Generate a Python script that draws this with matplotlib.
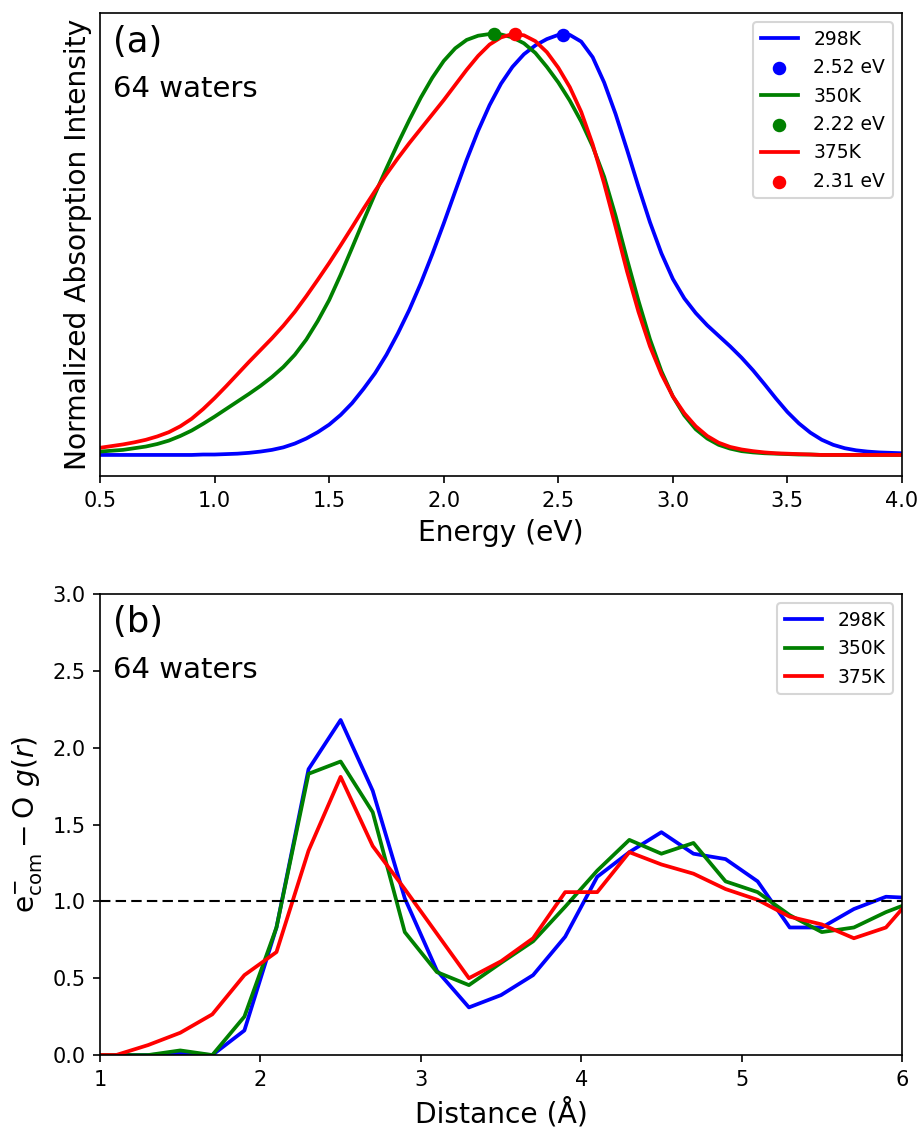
import matplotlib
matplotlib.use("Agg")
import matplotlib.pyplot as plt
import numpy as np

# absorption spectra, energies in eV, 0.05 eV steps
energy = [0.50, 0.55, 0.60, 0.65, 0.70, 0.75, 0.80, 0.85, 0.90, 0.95,
          1.00, 1.05, 1.10, 1.15, 1.20, 1.25, 1.30, 1.35, 1.40, 1.45,
          1.50, 1.55, 1.60, 1.65, 1.70, 1.75, 1.80, 1.85, 1.90, 1.95,
          2.00, 2.05, 2.10, 2.15, 2.20, 2.25, 2.30, 2.35, 2.40, 2.45,
          2.50, 2.55, 2.60, 2.65, 2.70, 2.75, 2.80, 2.85, 2.90, 2.95,
          3.00, 3.05, 3.10, 3.15, 3.20, 3.25, 3.30, 3.35, 3.40, 3.45,
          3.50, 3.55, 3.60, 3.65, 3.70, 3.75, 3.80, 3.85, 3.90, 3.95,
          4.00]
abs_298 = [0.0, 0.0, 0.0, 0.0, 0.0, 0.0, 0.0, 0.0, 0.0, 0.001,
           0.001, 0.002, 0.003, 0.005, 0.008, 0.012, 0.018, 0.027, 0.039, 0.054,
           0.072, 0.095, 0.123, 0.157, 0.194, 0.238, 0.289, 0.345, 0.408, 0.477,
           0.550, 0.626, 0.701, 0.770, 0.831, 0.882, 0.922, 0.952, 0.973, 0.988,
           0.998, 0.998, 0.982, 0.945, 0.885, 0.810, 0.725, 0.637, 0.553, 0.479,
           0.418, 0.372, 0.337, 0.308, 0.283, 0.258, 0.231, 0.201, 0.168, 0.134,
           0.102, 0.075, 0.053, 0.036, 0.024, 0.016, 0.011, 0.008, 0.006, 0.005,
           0.004]
abs_350 = [0.008, 0.010, 0.012, 0.016, 0.020, 0.026, 0.034, 0.045, 0.058, 0.074,
           0.091, 0.109, 0.127, 0.145, 0.164, 0.185, 0.209, 0.238, 0.274, 0.318,
           0.368, 0.428, 0.492, 0.557, 0.620, 0.681, 0.740, 0.796, 0.849, 0.896,
           0.936, 0.966, 0.986, 0.996, 1.0, 0.999, 0.992, 0.978, 0.955, 0.922,
           0.885, 0.842, 0.792, 0.733, 0.661, 0.568, 0.465, 0.366, 0.275, 0.199,
           0.139, 0.094, 0.061, 0.039, 0.024, 0.015, 0.009, 0.006, 0.004, 0.003,
           0.002, 0.001, 0.001, 0.0, 0.0, 0.0, 0.0, 0.0, 0.0, 0.0,
           0.0]
abs_375 = [0.017, 0.021, 0.025, 0.030, 0.036, 0.044, 0.054, 0.068, 0.086, 0.109,
           0.135, 0.163, 0.192, 0.221, 0.249, 0.277, 0.307, 0.340, 0.377, 0.416,
           0.456, 0.498, 0.541, 0.585, 0.627, 0.667, 0.705, 0.741, 0.775, 0.809,
           0.843, 0.879, 0.915, 0.948, 0.975, 0.992, 1.0, 0.997, 0.983, 0.957,
           0.920, 0.874, 0.815, 0.738, 0.645, 0.542, 0.436, 0.340, 0.258, 0.192,
           0.139, 0.099, 0.068, 0.045, 0.029, 0.019, 0.013, 0.009, 0.006, 0.004,
           0.003, 0.002, 0.001, 0.0, 0.0, 0.0, 0.0, 0.0, 0.0, 0.0,
           0.0]
peaks = [2.52, 2.22, 2.31]
temps = ["298K", "350K", "375K"]
colors = ["blue", "green", "red"]

# radial distribution functions
dist = [0.9, 1.1, 1.3, 1.5, 1.7, 1.9, 2.1, 2.3, 2.5, 2.7, 2.9, 3.1, 3.3, 3.5,
        3.7, 3.9, 4.1, 4.3, 4.5, 4.7, 4.9, 5.1, 5.3, 5.5, 5.7, 5.9, 6.1]
g_298 = [0.0, 0.0, 0.0, 0.01, 0.0, 0.16, 0.83, 1.86, 2.18, 1.72, 1.02, 0.55, 0.31,
         0.39, 0.52, 0.77, 1.16, 1.32, 1.45, 1.31, 1.275, 1.13, 0.83, 0.83, 0.95,
         1.03, 1.02]
g_350 = [0.0, 0.0, 0.0, 0.03, 0.0, 0.25, 0.83, 1.83, 1.91, 1.58, 0.80, 0.54, 0.455,
         0.60, 0.74, 0.965, 1.20, 1.40, 1.31, 1.38, 1.13, 1.06, 0.91, 0.80, 0.83,
         0.93, 1.01]
g_375 = [0.0, 0.0, 0.065, 0.145, 0.265, 0.52, 0.67, 1.33, 1.81, 1.36, 1.08, 0.79,
         0.50, 0.61, 0.76, 1.06, 1.06, 1.32, 1.24, 1.18, 1.08, 1.01, 0.90, 0.85,
         0.76, 0.83, 1.07]

fig = plt.figure(figsize=(922 / 150, 1129 / 150), dpi=150)
ax1 = fig.add_axes([0.1085, 0.5784, 0.8698, 0.4101])
ax2 = fig.add_axes([0.1085, 0.0655, 0.8698, 0.4084])

# (a) absorption
for y, pk, t, c in zip([abs_298, abs_350, abs_375], peaks, temps, colors):
    ax1.plot(energy, y, color=c, lw=1.8, label=t)
    ax1.scatter([pk], [max(y)], color=c, s=30, zorder=3, label="%.2f eV" % pk)
ax1.set_xlim(0.5, 4.0)
ax1.set_ylim(-0.05, 1.05)
ax1.set_yticks([])
ax1.set_xticks([0.5, 1.0, 1.5, 2.0, 2.5, 3.0, 3.5, 4.0])
ax1.set_xlabel("Energy (eV)", fontsize=13.5)
ax1.set_ylabel("Normalized Absorption Intensity", fontsize=13.5)
ax1.text(0.016, 0.975, "(a)", transform=ax1.transAxes, fontsize=17, va="top")
ax1.text(0.016, 0.865, "64 waters", transform=ax1.transAxes, fontsize=14, va="top")
ax1.legend(loc="upper right", fontsize=9)

# (b) g(r)
for y, t, c in zip([g_298, g_350, g_375], temps, colors):
    ax2.plot(dist, y, color=c, lw=1.8, label=t)
ax2.axhline(1.0, color="black", ls="--", lw=1.0, dashes=(5, 2.5))
ax2.set_xlim(1, 6)
ax2.set_ylim(0, 3)
ax2.set_yticks([0.0, 0.5, 1.0, 1.5, 2.0, 2.5, 3.0])
ax2.set_xlabel("Distance (Å)", fontsize=13.5)
ax2.set_ylabel(r"$\mathrm{e^{-}_{com}} - \mathrm{O}\ g(r)$", fontsize=13.5)
ax2.text(0.016, 0.975, "(b)", transform=ax2.transAxes, fontsize=17, va="top")
ax2.text(0.016, 0.865, "64 waters", transform=ax2.transAxes, fontsize=14, va="top")
ax2.legend(loc="upper right", fontsize=9)

fig.savefig("out.png", dpi=150)
